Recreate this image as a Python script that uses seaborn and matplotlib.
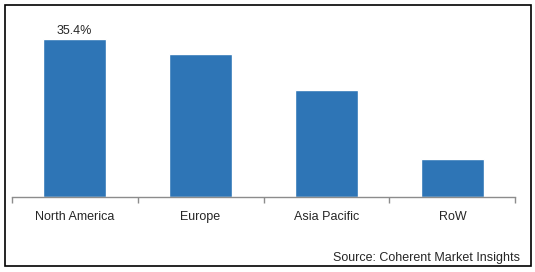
import matplotlib
matplotlib.use("Agg")
import matplotlib.pyplot as plt
import seaborn as sns
import pandas as pd
from matplotlib.patches import Rectangle

regions = ["North America", "Europe", "Asia Pacific", "RoW"]
shares = [35.4, 32.0, 24.0, 8.6]
label_text = "35.4%"
source_text = "Source: Coherent Market Insights"

sns.set_theme(style="white")
plt.rcParams['font.family'] = ['Liberation Sans', 'DejaVu Sans']

W, H = 535, 272
fig = plt.figure(figsize=(W / 100, H / 100), dpi=100)
ax_left, ax_right = 11.7 / W, 515.3 / W
ax_bottom = (H - 197.3) / H
ax_top = (H - 13) / H
ax = fig.add_axes([ax_left, ax_bottom, ax_right - ax_left, ax_top - ax_bottom])

df = pd.DataFrame({"region": regions, "share": shares})
sns.barplot(data=df, x="region", y="share", color="#2E75B6", width=0.5,
            saturation=1, ax=ax)
ax.set_xlim(-0.5, 3.5)
ax.set_ylim(0, 184.3 * 35.4 / 158.3)
for s in ["top", "right", "left"]:
    ax.spines[s].set_visible(False)
ax.spines["bottom"].set_color("#8c8c8c")
ax.spines["bottom"].set_linewidth(1.0)
ax.set_yticks([])
ax.set_xlabel("")
ax.set_ylabel("")
ax.set_xticks(range(len(regions)))
ax.set_xticklabels(regions, fontsize=9, color="#262626")
ax.tick_params(axis="x", which="major", length=0, pad=10)
ax.set_xticks([i - 0.5 for i in range(len(regions) + 1)], minor=True)
ax.tick_params(axis="x", which="minor", bottom=True, length=4, width=1.0,
               color="#8c8c8c", direction="out")

ax.annotate(label_text, xy=(0, shares[0]), xytext=(0, 1.5), textcoords="offset points",
            ha="center", va="bottom", fontsize=9, color="#262626")

fig.text(520 / W, 1 - 257.7 / H, source_text, ha="right", va="center", fontsize=9, color="#262626")

fig.patches.append(Rectangle((4.5 / W, 1 - 266 / H), (530.5 - 4.5) / W, (266 - 4.5) / H,
                             transform=fig.transFigure, fill=False, edgecolor="black",
                             linewidth=1.2, zorder=10))
fig.savefig("out.png", dpi=100)
